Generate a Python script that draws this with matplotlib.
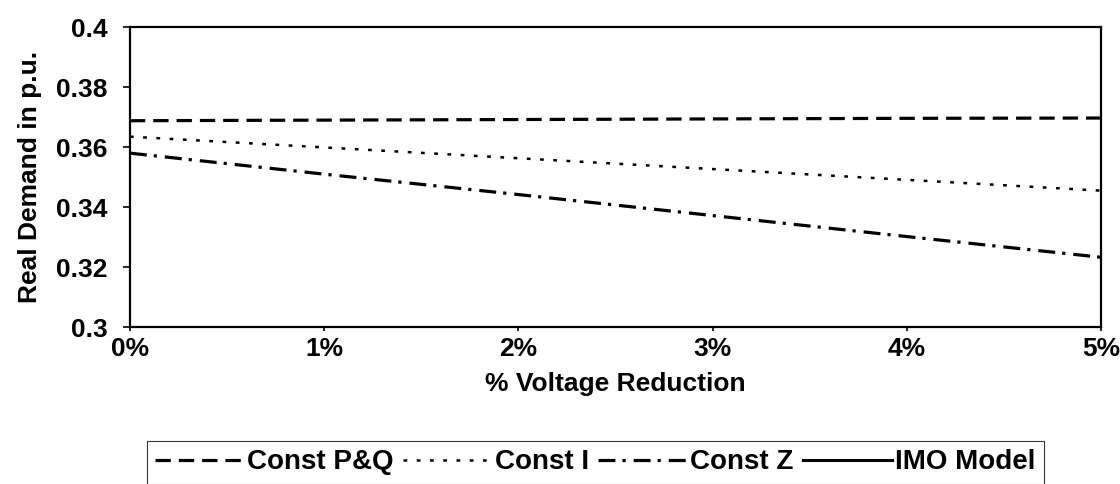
import matplotlib.pyplot as plt

# ── Data ──
reduction_pct = [0, 1, 2, 3, 4, 5]
const_pq = [0.3688, 0.3690, 0.3692, 0.3694, 0.3696, 0.3697]
const_i = [0.3635, 0.3599, 0.3563, 0.3527, 0.3491, 0.3455]
const_z = [0.3580, 0.3510, 0.3442, 0.3372, 0.3302, 0.3233]
imo_model = []  # no IMO points on this run
x_ticks = [0, 1, 2, 3, 4, 5]
x_tick_labels = ["0%", "1%", "2%", "3%", "4%", "5%"]
y_ticks = [0.3, 0.32, 0.34, 0.36, 0.38, 0.4]
y_tick_labels = ["0.3", "0.32", "0.34", "0.36", "0.38", "0.4"]

plt.rcParams['font.family'] = ['Liberation Sans', 'DejaVu Sans']
plt.rcParams['font.weight'] = 'bold'
FS = 19

fig = plt.figure(figsize=(11.2, 4.84), dpi=100)
ax = fig.add_axes([0.116, 0.324, 0.867, 0.620])

ax.plot(reduction_pct, const_pq, color='black', lw=2.3,
        linestyle=(0, (4.8, 2.5)), label='Const P&Q')
ax.plot(reduction_pct, const_i, color='black', lw=1.8,
        linestyle=(0, (1.5, 3.8)), label='Const I')
ax.plot(reduction_pct, const_z, color='black', lw=2.3,
        linestyle=(0, (5.3, 2.2, 1, 2.5)), label='Const Z')
ax.plot(reduction_pct[:len(imo_model)], imo_model, color='black', lw=2.2,
        linestyle='-', label='IMO Model')

ax.set_xlim(0, 5)
ax.set_ylim(0.3, 0.4)
ax.set_xticks(x_ticks, x_tick_labels)
ax.set_yticks(y_ticks, y_tick_labels)
ax.tick_params(axis='both', direction='out', width=1.2, labelsize=FS)
ax.tick_params(axis='y', length=5, pad=11)
ax.tick_params(axis='x', length=3, pad=4)
for spine in ax.spines.values():
    spine.set_linewidth(1.6)
    spine.set_color('black')

ax.set_xlabel('% Voltage Reduction', fontsize=FS, fontweight='bold', labelpad=8)
ax.set_ylabel('Real Demand in p.u.', fontsize=FS, fontweight='bold', labelpad=10)

leg = fig.legend(loc='upper left', bbox_to_anchor=(0.131, 0.089), ncol=4,
                 fontsize=20, frameon=True, fancybox=False, handlelength=3.2,
                 handletextpad=0.1, columnspacing=0.35, borderpad=0.3,
                 borderaxespad=0)
leg.get_frame().set_edgecolor('black')
leg.get_frame().set_linewidth(0.8)

fig.savefig('out.png', dpi=100)
